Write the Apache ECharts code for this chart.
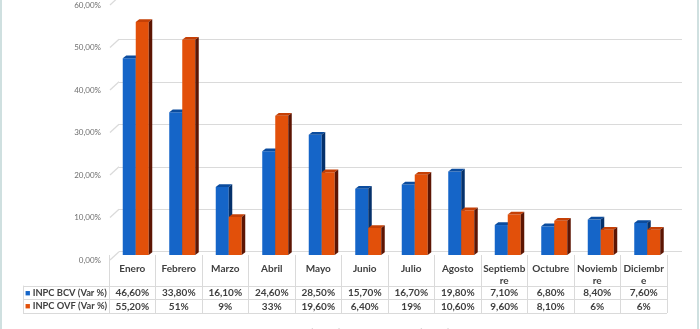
<!DOCTYPE html>
<html><head><meta charset="utf-8">
<script src="https://cdn.jsdelivr.net/npm/echarts@6/dist/echarts.min.js"></script>
<style>html,body{margin:0;padding:0;background:#fff}#c{width:700px;height:329px}</style>
</head><body><div id="c"></div>
<script>
const categories = ['Enero','Febrero','Marzo','Abril','Mayo','Junio','Julio','Agosto','Septiembre','Octubre','Noviembre','Diciembre'];
const monthLabels = ['Enero','Febrero','Marzo','Abril','Mayo','Junio','Julio','Agosto','Septiemb\nre','Octubre','Noviemb\nre','Diciembr\ne'];
const bcv = [46.6,33.8,16.1,24.6,28.5,15.7,16.7,19.8,7.1,6.8,8.4,7.6];
const ovf = [55.2,51,9,33,19.6,6.4,19,10.6,9.6,8.1,6,6];
const seriesNames = ['INPC BCV (Var %)','INPC OVF (Var %)'];
const yTicks = [0,10,20,30,40,50,60];

const FONT = 'Lato';
const BLUE = ['#1565c8','#0b4c9e','#05316b'];   // front, top, side
const ORANGE = ['#e2500a','#c54006','#5c1503'];
const GRID_COLOR = '#dadada';

function fmt(v){ return Number.isInteger(v) ? v + '%' : v.toFixed(2).replace('.', ',') + '%'; }

function bar3d(colors, offset){
  return function(params, api){
    const i = api.value(0), v = api.value(1);
    const base = api.coord([i, 0]);
    const topP = api.coord([i, v]);
    const w = 13, dx = 3.5, dy = -2.8;
    const x0 = base[0] + offset, y0 = base[1], y1 = topP[1];
    return {type:'group', children:[
      {type:'rect', shape:{x:x0, y:y1, width:w, height:y0-y1}, style:{fill:colors[0]}},
      {type:'polygon', shape:{points:[[x0,y1],[x0+w,y1],[x0+w+dx,y1+dy],[x0+dx,y1+dy]]}, style:{fill:colors[1]}},
      {type:'polygon', shape:{points:[[x0+w,y1],[x0+w+dx,y1+dy],[x0+w+dx,y0+dy],[x0+w,y0]]}, style:{fill:colors[2]}}
    ]};
  };
}

const chart = echarts.init(document.getElementById('c'), null, {renderer:'canvas'});
chart.setOption({
  animation:false,
  backgroundColor:'#ffffff',
  textStyle:{fontFamily:FONT},
  graphic:[{type:'rect', silent:true, shape:{x:1, y:-5, width:697, height:340}, style:{fill:'none', stroke:'#cfe0e0', lineWidth:2}}],
  legend:{
    data:seriesNames, top:323, left:'center', itemWidth:7, itemHeight:7, itemGap:18, icon:'rect',
    textStyle:{fontSize:10, color:'#595959', fontFamily:FONT}
  },
  grid:[
    {left:109, right:33, top:1.8, bottom:74},
    {left:119, right:18, top:39.45, bottom:77.3},
    {left:110, right:18, top:5, bottom:69},
    {left:23, right:33, top:286, bottom:16}
  ],
  xAxis:[
    {gridIndex:0, type:'category', data:categories, boundaryGap:true,
     axisLine:{show:false},
     axisTick:{show:true, interval:0, length:58, lineStyle:{color:GRID_COLOR}},
     axisLabel:{interval:0, margin:8.25, color:'#404040',
       formatter:function(val, idx){
         const m = monthLabels[idx].split('\n');
         return '{m|' + m[0] + '}\n{m|' + (m[1] || ' ') + '}\n{v|' + fmt(bcv[idx]) + '}\n{v|' + fmt(ovf[idx]) + '}';
       },
       rich:{
         m:{fontSize:10, fontWeight:'bold', lineHeight:11.5, color:'#404040', fontFamily:FONT, align:'center'},
         v:{fontSize:10, fontWeight:'bold', lineHeight:13.5, color:'#404040', fontFamily:FONT, align:'center'}
       }}
    },
    {gridIndex:1, type:'value', min:0, max:1, show:false},
    {gridIndex:2, type:'value', min:0, max:1, show:false},
    {gridIndex:3, type:'value', min:0, max:1, show:false}
  ],
  yAxis:[
    {gridIndex:0, type:'value', min:0, max:60, show:false},
    {gridIndex:1, type:'value', min:0, max:50, interval:10,
     axisLine:{show:false}, axisTick:{show:false}, axisLabel:{show:false},
     splitLine:{show:true, lineStyle:{color:GRID_COLOR, width:1.2}}},
    {gridIndex:2, type:'value', min:0, max:60, interval:10,
     axisLine:{show:false}, axisTick:{show:false}, splitLine:{show:false},
     axisLabel:{margin:9, fontSize:8, color:'#6f6f6f', fontFamily:FONT,
       formatter:function(v){ return v.toFixed(2).replace('.', ',') + '%'; }}},
    {gridIndex:3, type:'category', data:seriesNames, inverse:true, boundaryGap:true,
     axisLine:{show:true, lineStyle:{color:GRID_COLOR}}, axisTick:{show:false},
     splitLine:{show:true, interval:0, lineStyle:{color:GRID_COLOR}},
     axisLabel:{inside:true, margin:2, interval:0,
       formatter:function(val, idx){ return '{s' + idx + '|■}{t| ' + val + '}'; },
       rich:{
         s0:{color:BLUE[0], fontSize:9, fontFamily:FONT},
         s1:{color:ORANGE[0], fontSize:9, fontFamily:FONT},
         t:{color:'#404040', fontSize:9.3, fontWeight:'bold', fontFamily:FONT}
       }}}
  ],
  series:[
    {type:'custom', name:'slants', xAxisIndex:2, yAxisIndex:2, silent:true,
     data:yTicks.map(function(v){ return [0, v]; }),
     renderItem:function(params, api){
       const p = api.coord([0, api.value(1)]);
       return {type:'line', shape:{x1:p[0], y1:p[1], x2:p[0]+9, y2:p[1]-8.3}, style:{stroke:GRID_COLOR, lineWidth:1.2}};
     }},
    {type:'custom', name:seriesNames[0], xAxisIndex:0, yAxisIndex:0,
     itemStyle:{color:BLUE[0]},
     data:bcv.map(function(v, i){ return [i, v]; }),
     encode:{x:0, y:1},
     renderItem:bar3d(BLUE, -9.5)},
    {type:'custom', name:seriesNames[1], xAxisIndex:0, yAxisIndex:0,
     itemStyle:{color:ORANGE[0]},
     data:ovf.map(function(v, i){ return [i, v]; }),
     encode:{x:0, y:1},
     renderItem:bar3d(ORANGE, 3.5)}
  ]
});
</script></body></html>
